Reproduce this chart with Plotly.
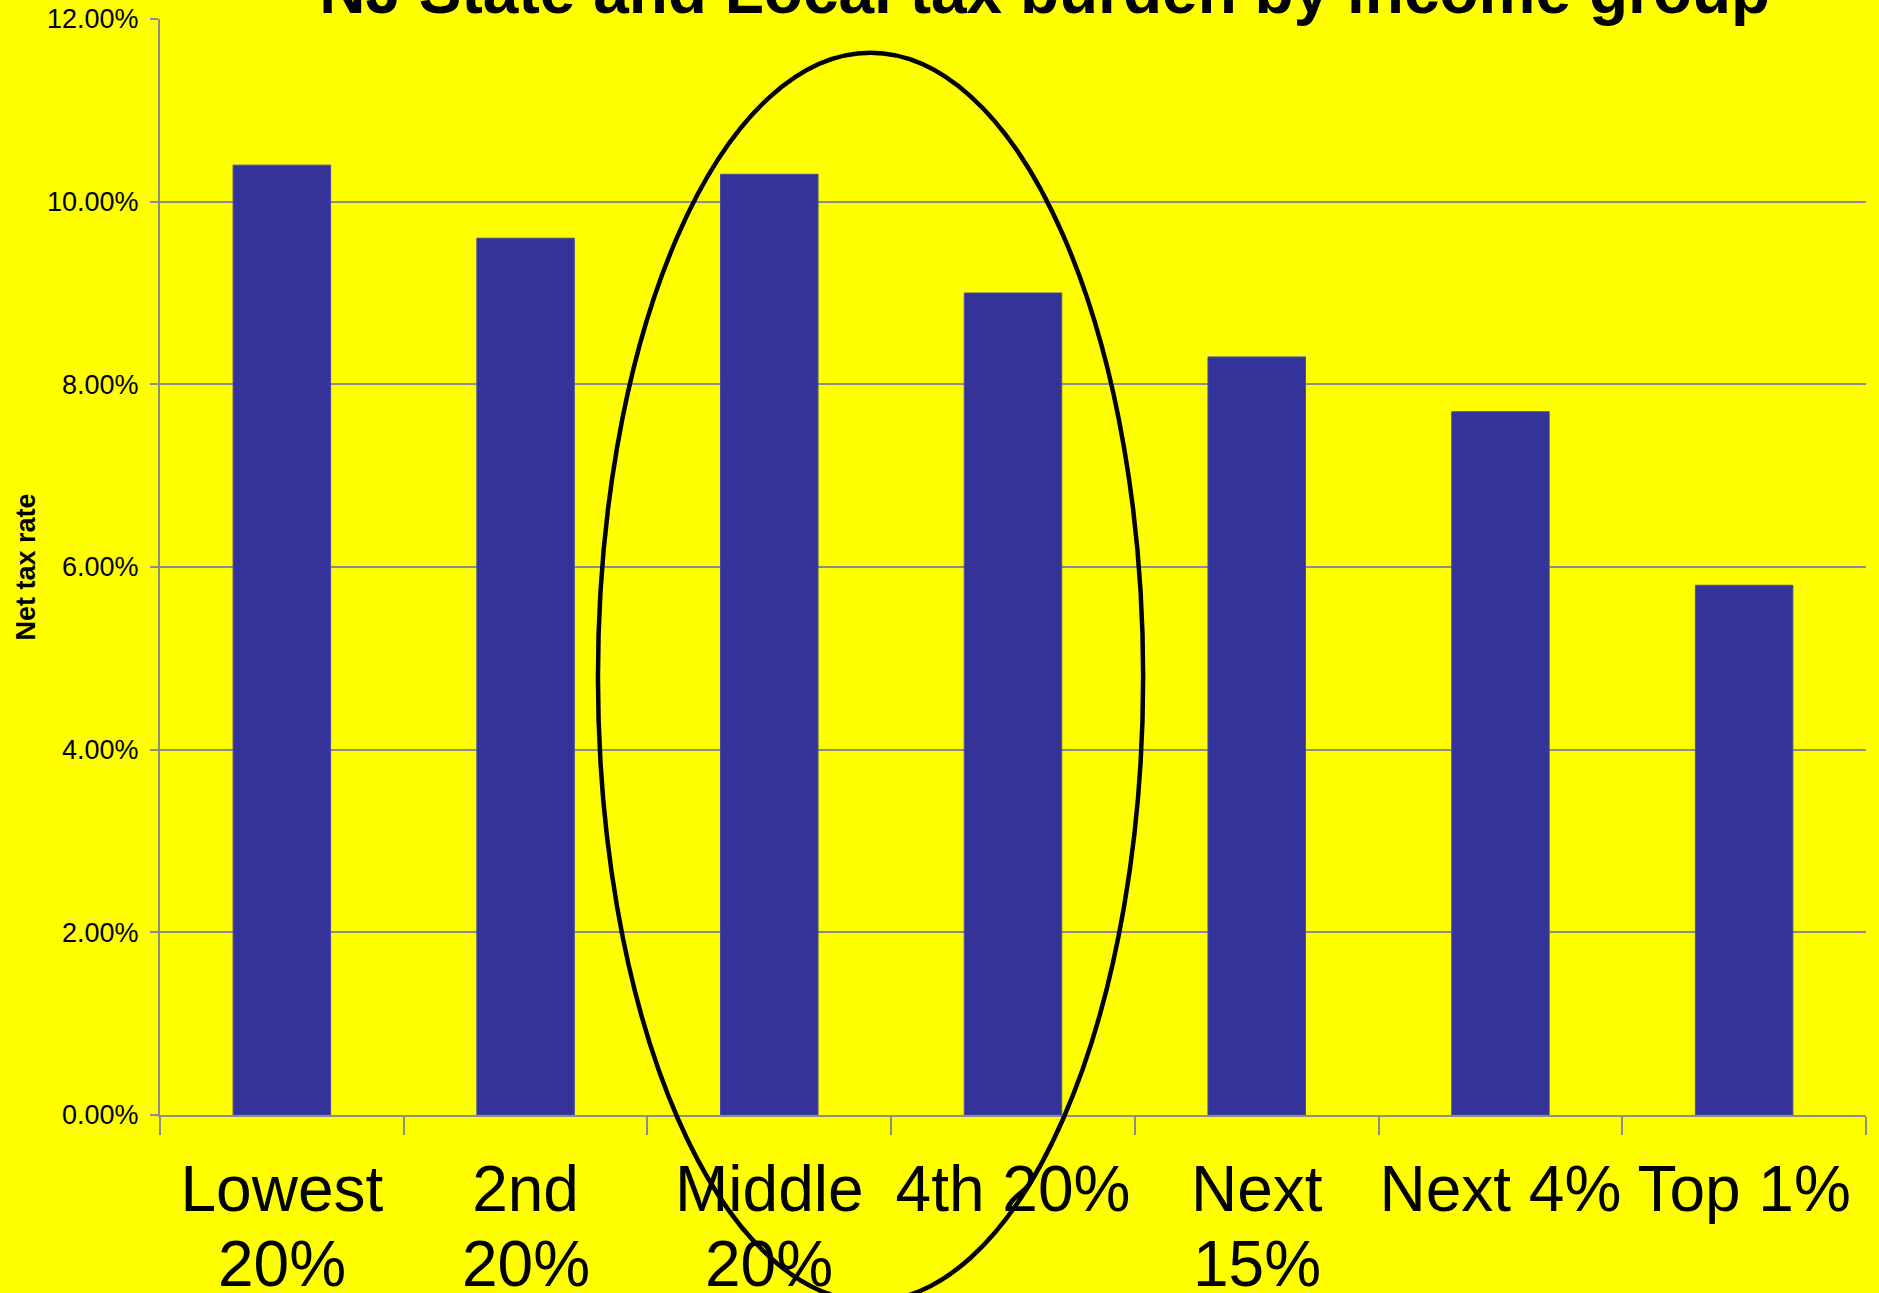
import plotly.graph_objects as go

# Income groups, split into the two lines shown under each bar
groups = ["Lowest 20%", "2nd 20%", "Middle 20%", "4th 20%", "Next 15%", "Next 4%", "Top 1%"]
label_line1 = ["Lowest", "2nd", "Middle", "4th 20%", "Next", "Next 4%", "Top 1%"]
label_line2 = ["20%", "20%", "20%", "", "15%", "", ""]

# Net state and local tax rate for each group (share of income)
net_tax_rate = [0.104, 0.096, 0.103, 0.090, 0.083, 0.077, 0.058]

# y-axis ticks
y_ticks = [0.0, 0.02, 0.04, 0.06, 0.08, 0.10, 0.12]

Y_MAX = 0.12
BAR_BLUE = "#333399"
YELLOW = "#FFFF00"
GRID = "#8c8c8c"
FONT = "Liberation Sans, Arial, sans-serif"

fig = go.Figure(
    go.Bar(
        x=groups,
        y=net_tax_rate,
        marker=dict(color=BAR_BLUE, line=dict(color="#4a4aa6", width=1)),
        hoverinfo="x+y",
    )
)

# Highlight ring around the middle-income groups, given in category index /
# data units and converted to paper fractions so it can spill past the axes.
n = len(groups)


def cat_to_paper(idx):
    return (idx + 0.5) / n


def val_to_paper(v):
    return v / Y_MAX


ring = dict(x0=1.297, x1=3.534, y0=-0.0204, y1=0.1163)
fig.add_shape(
    type="circle",
    xref="paper",
    yref="paper",
    x0=cat_to_paper(ring["x0"]),
    x1=cat_to_paper(ring["x1"]),
    y0=val_to_paper(ring["y0"]),
    y1=val_to_paper(ring["y1"]),
    line=dict(color="black", width=4.5),
    fillcolor="rgba(0,0,0,0)",
    layer="above",
)

# Second line of the category labels
for g, txt in zip(groups, label_line2):
    if txt:
        fig.add_annotation(
            x=g,
            xref="x",
            y=0,
            yref="paper",
            yanchor="top",
            yshift=-111,
            text=txt,
            showarrow=False,
            font=dict(family=FONT, size=64, color="black"),
        )

fig.update_layout(
    width=1879,
    height=1293,
    margin=dict(l=160, r=13, t=19, b=178),
    paper_bgcolor=YELLOW,
    plot_bgcolor=YELLOW,
    showlegend=False,
    bargap=0.6,
    font=dict(family=FONT, color="black"),
    title=dict(
        text="<b>NJ State and Local tax burden by income group</b>",
        font=dict(family=FONT, size=64, color="black"),
        xref="container",
        x=0.556,
        xanchor="center",
        yref="container",
        y=1 - 13 / 1293,
        yanchor="bottom",
    ),
    xaxis=dict(
        type="category",
        categoryorder="array",
        categoryarray=groups,
        tickmode="array",
        tickvals=groups,
        ticktext=label_line1,
        tickangle=0,
        tickson="boundaries",
        ticks="outside",
        ticklen=18,
        tickwidth=2,
        tickcolor=GRID,
        showline=True,
        linecolor=GRID,
        linewidth=2,
        showgrid=False,
        tickfont=dict(family=FONT, size=64, color="black"),
        ticklabelstandoff=17,
        automargin=False,
        range=[-0.5, n - 0.5],
    ),
    yaxis=dict(
        range=[0, Y_MAX],
        tickmode="array",
        tickvals=y_ticks,
        tickformat=".2%",
        ticks="outside",
        ticklen=8,
        tickwidth=2,
        tickcolor=GRID,
        showline=True,
        linecolor=GRID,
        linewidth=2,
        showgrid=True,
        gridcolor=GRID,
        gridwidth=2,
        zeroline=False,
        tickfont=dict(family=FONT, size=27, color="black"),
        ticklabelstandoff=6,
        automargin=False,
        title=dict(
            text="<b>Net tax rate</b>",
            font=dict(family=FONT, size=27, color="black"),
            standoff=4,
        ),
    ),
)

fig.write_html("out.html")
